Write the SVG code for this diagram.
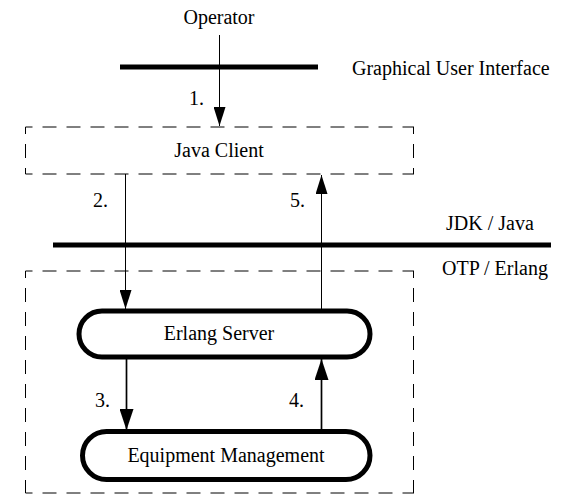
<svg xmlns="http://www.w3.org/2000/svg" width="568" height="494" viewBox="0 0 568 494">
<defs>
<style>
text{font-family:"Liberation Serif","Times New Roman",serif;font-size:20px;fill:#000}
.mid{text-anchor:middle}
.dash{stroke:#000;stroke-width:1;stroke-dasharray:14 10;stroke-dashoffset:7;fill:none}
.bar{stroke:#000;stroke-width:5}
.node{fill:#fff;stroke:#000;stroke-width:5}
.thin{stroke:#000;stroke-width:1;fill:none}
.thick{stroke:#000;stroke-width:1.7;fill:none}
</style>
<marker id="ah" markerUnits="userSpaceOnUse" viewBox="0 0 19 12" refX="19" refY="6" markerWidth="19" markerHeight="12" orient="auto">
<path d="M0,0 L19,6 L0,12 z" fill="#000"/>
</marker>
<marker id="ahb" markerUnits="userSpaceOnUse" viewBox="0 0 21 14" refX="21" refY="7" markerWidth="21" markerHeight="14" orient="auto">
<path d="M0,0 L21,7 L0,14 z" fill="#000"/>
</marker>
</defs>
<rect width="568" height="494" fill="#fff"/>

<g id="layers">
<line class="bar" x1="120" y1="67" x2="318" y2="67"/>
<text x="352" y="75">Graphical User Interface</text>
<line class="bar" x1="53" y1="245" x2="551" y2="245"/>
<text x="446" y="230">JDK / Java</text>
<text x="442" y="275">OTP / Erlang</text>
</g>

<g id="operator">
<text class="mid" x="219" y="24">Operator</text>
</g>

<g id="java-client">
<line class="dash" x1="25.5" y1="127" x2="414" y2="127"/>
<line class="dash" x1="25.5" y1="174" x2="414" y2="174"/>
<line class="dash" x1="25.5" y1="127" x2="25.5" y2="174"/>
<line class="dash" x1="413.5" y1="127" x2="413.5" y2="174"/>
<text class="mid" x="219" y="157">Java Client</text>
</g>

<g id="otp-erlang">
<line class="dash" x1="25.5" y1="271" x2="414" y2="271"/>
<line class="dash" x1="25.5" y1="493" x2="414" y2="493"/>
<line class="dash" x1="25.5" y1="271" x2="25.5" y2="493"/>
<line class="dash" x1="413.5" y1="271" x2="413.5" y2="493"/>
</g>

<g id="erlang-server">
<rect class="node" x="79" y="311" width="291" height="46" rx="23"/>
<text class="mid" x="219" y="340">Erlang Server</text>
</g>

<g id="equipment-management">
<rect class="node" x="82.5" y="431.5" width="287.5" height="48" rx="24"/>
<text class="mid" x="226" y="462">Equipment Management</text>
</g>

<g id="connectors">
<line class="thin" x1="219.5" y1="35" x2="219.5" y2="126" marker-end="url(#ah)"/>
<text x="189" y="105">1.</text>
<line class="thin" x1="125.5" y1="174" x2="125.5" y2="309" marker-end="url(#ah)"/>
<text x="93" y="207">2.</text>
<line class="thin" x1="321.5" y1="309" x2="321.5" y2="175" marker-end="url(#ah)"/>
<text x="290" y="207">5.</text>
<line class="thick" x1="126.5" y1="359" x2="126.5" y2="430" marker-end="url(#ahb)"/>
<text x="95" y="407">3.</text>
<line class="thick" x1="321.5" y1="430" x2="321.5" y2="359" marker-end="url(#ahb)"/>
<text x="289" y="407">4.</text>
</g>
</svg>
